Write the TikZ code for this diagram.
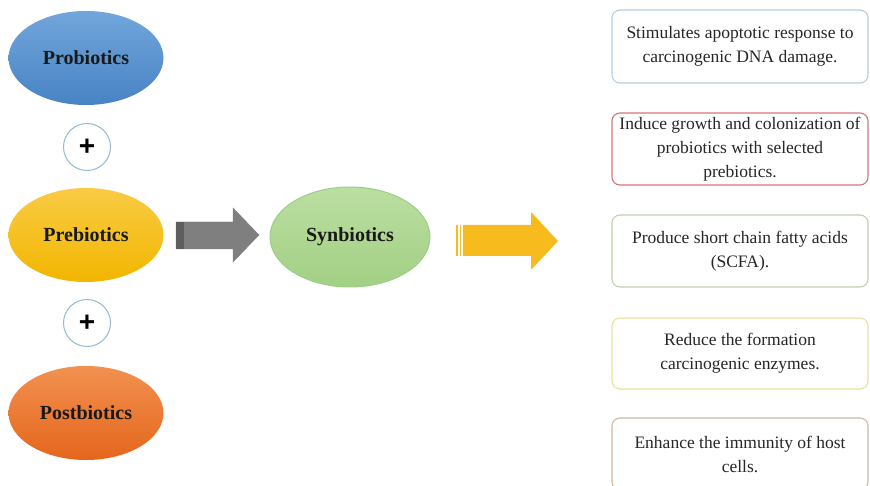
\documentclass[tikz,border=0pt]{standalone}
\usepackage{fontspec}
\setmainfont{Liberation Serif}
\newfontfamily\plusfont{Liberation Sans}
\usepackage{tikz}
\usetikzlibrary{shapes.geometric,positioning}
\definecolor{proTop}{HTML}{72A6DB}
\definecolor{proBot}{HTML}{4783C4}
\definecolor{preTop}{HTML}{F9CB45}
\definecolor{preBot}{HTML}{F2B600}
\definecolor{postTop}{HTML}{F29150}
\definecolor{postBot}{HTML}{E5661C}
\definecolor{synTop}{HTML}{BCDEA2}
\definecolor{synBot}{HTML}{A2D084}
\definecolor{synEdge}{HTML}{9ACF86}
\definecolor{plusEdge}{HTML}{92BBCE}
\definecolor{grayArr}{HTML}{7F7F7F}
\definecolor{grayBand}{HTML}{5E5E5E}
\definecolor{yellowArr}{HTML}{F7BB1E}
\definecolor{edgeA}{HTML}{B6CDDF}
\definecolor{edgeB}{HTML}{D27579}
\definecolor{edgeC}{HTML}{BFD1AF}
\definecolor{edgeD}{HTML}{EBE09C}
\definecolor{edgeE}{HTML}{CDB9A4}
\tikzset{blob/.style={ellipse,minimum width=155pt,minimum height=94pt,inner sep=0pt,
    text=black!90,font=\fontsize{20}{20}\selectfont\bfseries}}
\tikzset{effect/.style={draw,rounded corners=8pt,minimum width=256pt,align=center,
    line width=1.1pt,text=black!85,font=\fontsize{17.5}{24}\selectfont}}

\begin{document}
\begin{tikzpicture}[x=1pt, y=-1pt]
        \tikzstyle{plus}=[circle,draw=plusEdge,line width=1pt,minimum size=47pt,inner sep=0pt,
            font=\fontsize{28}{28}\selectfont\plusfont\bfseries]
        \useasboundingbox (0,0) rectangle (870,486);
        % left column
        \node[blob,top color=proTop,bottom color=proBot] (P) at (86,58) {Probiotics};
        \node[plus] (A) at (87,147) {+};
        \node[blob,top color=preTop,bottom color=preBot] (R) at (86,235) {Prebiotics};
        \node[plus] (B) at (87,323) {+};
        \node[blob,top color=postTop,bottom color=postBot] (O) at (86,413) {Postbiotics};
        % middle
        \fill[grayArr,draw=grayBand!80,line width=0.4pt] (176,222) -- (233,222) -- (233,208)
            -- (259,235) -- (233,262) -- (233,249) -- (176,249) -- cycle;
        \fill[grayBand] (176,222) rectangle (184,249);
        \node[blob,minimum width=160pt,minimum height=100pt,draw=synEdge,line width=1pt,
            top color=synTop,bottom color=synBot] (S) at (350,237) {Synbiotics};
        \fill[yellowArr] (463,225) -- (531,225) -- (531,212) -- (558,241)
            -- (531,270) -- (531,256) -- (463,256) -- cycle;
        \fill[yellowArr] (456,225) rectangle (457.5,256);
        \fill[yellowArr] (459.5,225) rectangle (461,256);
        % effects
        \node[effect,draw=edgeA,minimum height=73pt] (E1) at (740,46.5)
            {Stimulates apoptotic response to\\carcinogenic DNA damage.};
        \node[effect,draw=edgeB,minimum height=72pt] (E2) at (740,149)
            {Induce growth and colonization of\\probiotics with selected\\prebiotics.};
        \node[effect,draw=edgeC,minimum height=72pt] (E3) at (740,251)
            {Produce short chain fatty acids\\(SCFA).};
        \node[effect,draw=edgeD,minimum height=71pt] (E4) at (740,353.5)
            {Reduce the formation\\carcinogenic enzymes.};
        \node[effect,draw=edgeE,minimum height=72pt] (E5) at (740,454)
            {Enhance the immunity of host\\cells.};
\end{tikzpicture}
\end{document}
